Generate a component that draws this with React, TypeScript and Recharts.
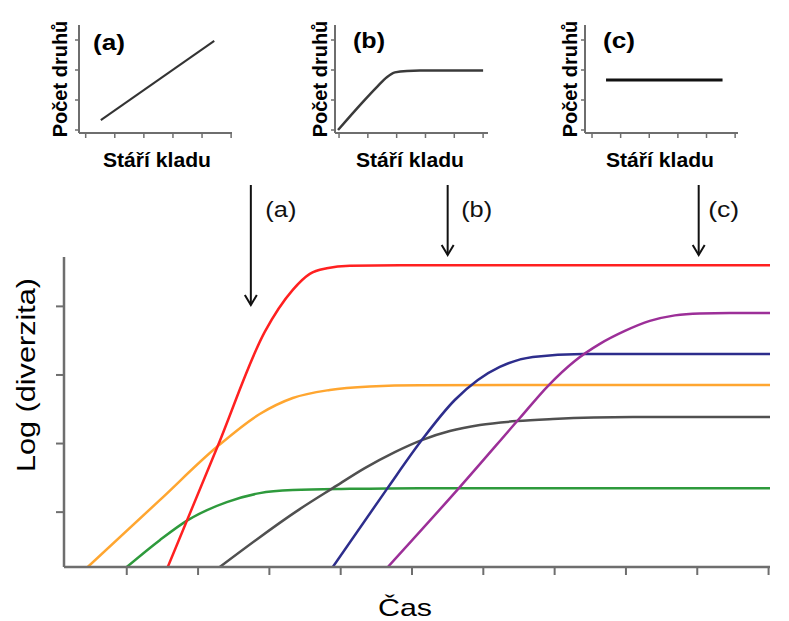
import React from "react";
import { LineChart, Line, XAxis, YAxis, ReferenceLine } from "recharts";

// main panel: time vs log(diversity), no tick labels
const timeTicks = [1, 2, 3, 4, 5, 6, 7, 8, 9, 10];
const diversityTicks = [1, 2, 3, 4];
const timeDomain: [number, number] = [0.12, 10.02];
const diversityDomain: [number, number] = [0.2, 4.72];

const redClade = [
  { t: 1.575, v: 0.2 }, { t: 2.276, v: 1.964 }, { t: 2.935, v: 3.628 }, { t: 3.328, v: 4.241 },
  { t: 3.567, v: 4.474 }, { t: 3.805, v: 4.555 }, { t: 4.128, v: 4.591 }, { t: 4.829, v: 4.599 },
  { t: 10.02, v: 4.599 },
];
const orangeClade = [
  { t: 0.453, v: 0.2 }, { t: 1.463, v: 1.175 }, { t: 2.262, v: 1.949 }, { t: 2.865, v: 2.431 },
  { t: 3.328, v: 2.664 }, { t: 3.847, v: 2.781 }, { t: 4.408, v: 2.832 }, { t: 5.109, v: 2.851 },
  { t: 10.02, v: 2.854 },
];
const greenClade = [
  { t: 1.0, v: 0.2 }, { t: 1.463, v: 0.591 }, { t: 1.856, v: 0.883 }, { t: 2.403, v: 1.146 },
  { t: 2.865, v: 1.277 }, { t: 3.328, v: 1.321 }, { t: 4.128, v: 1.34 }, { t: 5.109, v: 1.35 },
  { t: 10.02, v: 1.35 },
];
const grayClade = [
  { t: 2.304, v: 0.2 }, { t: 3.426, v: 1.044 }, { t: 3.889, v: 1.35 }, { t: 4.338, v: 1.642 },
  { t: 4.759, v: 1.876 }, { t: 5.137, v: 2.051 }, { t: 5.53, v: 2.182 }, { t: 5.951, v: 2.27 },
  { t: 6.47, v: 2.328 }, { t: 6.975, v: 2.358 }, { t: 8.097, v: 2.387 }, { t: 10.02, v: 2.387 },
];
const blueClade = [
  { t: 3.889, v: 0.2 }, { t: 4.647, v: 1.336 }, { t: 5.137, v: 2.051 }, { t: 5.6, v: 2.635 },
  { t: 5.923, v: 2.927 }, { t: 6.231, v: 3.117 }, { t: 6.694, v: 3.263 }, { t: 7.396, v: 3.307 },
  { t: 10.02, v: 3.307 },
];
const purpleClade = [
  { t: 4.661, v: 0.2 }, { t: 5.67, v: 1.365 }, { t: 6.512, v: 2.372 }, { t: 6.905, v: 2.839 },
  { t: 7.283, v: 3.204 }, { t: 7.634, v: 3.453 }, { t: 7.985, v: 3.642 }, { t: 8.335, v: 3.788 },
  { t: 8.686, v: 3.869 }, { t: 9.036, v: 3.898 }, { t: 9.457, v: 3.905 }, { t: 10.02, v: 3.905 },
];

const clades = [
  { name: "orange", color: "#ffa630", data: orangeClade },
  { name: "green", color: "#2e9a3c", data: greenClade },
  { name: "gray", color: "#505050", data: grayClade },
  { name: "blue", color: "#2d2d8c", data: blueClade },
  { name: "purple", color: "#9c2f98", data: purpleClade },
  { name: "red", color: "#ff2020", data: redClade },
];

const arrows = [
  { text: "(a)", t: 2.74, top: 5.77, tip: 4.02, dx: 30 },
  { text: "(b)", t: 5.5, top: 5.77, tip: 4.75, dx: 29 },
  { text: "(c)", t: 9.02, top: 5.77, tip: 4.75, dx: 25 },
];

// small insets: clade age vs species count
const ageTicks = [1, 2, 3, 4, 5, 6];
const countTicks = [0, 1, 2, 3];
const countDomain: [number, number] = [-0.1, 3.5];

const insetLinear = [{ a: 1.52, n: 0.33 }, { a: 5.42, n: 2.97 }];
const insetSaturating = [
  { a: 0.965, n: 0 }, { a: 1.83, n: 0.94 }, { a: 2.32, n: 1.44 }, { a: 2.67, n: 1.77 },
  { a: 2.94, n: 1.92 }, { a: 3.36, n: 1.97 }, { a: 3.81, n: 1.98 }, { a: 6.0, n: 1.98 },
];
const insetConstant = [{ a: 1.49, n: 1.67 }, { a: 5.56, n: 1.67 }];

const insets = [
  { key: "a", left: 40, ml: 38, mr: 18, domain: [0.77, 6.03], data: insetLinear, color: "#333", width: 2, type: "linear" },
  { key: "b", left: 300, ml: 34, mr: 22, domain: [0.86, 6.17], data: insetSaturating, color: "#3a3a3a", width: 2.5, type: "monotone" },
  { key: "c", left: 550, ml: 34, mr: 22, domain: [0.755, 6.1], data: insetConstant, color: "#111", width: 3, type: "linear" },
];

const AXIS = "#6e6e6e";
const FONT = "'Liberation Sans', Arial, sans-serif";
const noLabel = () => "";

function Arrow(props: any) {
  const { x1, y1, x2, y2, text, dx } = props;
  return (
    <g>
      <line x1={x1} y1={y1} x2={x2} y2={y2} stroke="#111" strokeWidth={2} />
      <polyline
        points={`${x2 - 6},${y2 - 10} ${x2},${y2} ${x2 + 6},${y2 - 10}`}
        fill="none"
        stroke="#111"
        strokeWidth={2}
      />
      <text
        x={x1 + dx}
        y={y1 + 32}
        textAnchor="middle"
        fontSize={22}
        fontFamily={FONT}
        fill="#111"
        textLength={31}
        lengthAdjust="spacingAndGlyphs"
      >
        {text}
      </text>
    </g>
  );
}

function Inset({ cfg }: { cfg: any }) {
  return (
    <div style={{ position: "absolute", left: cfg.left, top: 0 }}>
      <LineChart width={210} height={175} margin={{ top: 25, right: cfg.mr, bottom: 41, left: cfg.ml }}>
        <XAxis
          dataKey="a"
          type="number"
          domain={cfg.domain}
          ticks={ageTicks}
          allowDataOverflow
          tickFormatter={noLabel}
          tickSize={5}
          height={1}
          axisLine={{ stroke: AXIS, strokeWidth: 2 }}
          tickLine={{ stroke: AXIS, strokeWidth: 1.5 }}
        />
        <YAxis
          dataKey="n"
          type="number"
          domain={countDomain}
          ticks={countTicks}
          allowDataOverflow
          tickFormatter={noLabel}
          tickSize={4}
          width={1}
          axisLine={{ stroke: AXIS, strokeWidth: 2 }}
          tickLine={{ stroke: AXIS, strokeWidth: 1.5 }}
        />
        <Line
          data={cfg.data}
          dataKey="n"
          type={cfg.type}
          stroke={cfg.color}
          strokeWidth={cfg.width}
          dot={false}
          isAnimationActive={false}
        />
      </LineChart>
    </div>
  );
}

export default function App() {
  return (
    <div style={{ position: "absolute", left: 0, top: 0, width: 789, height: 621, background: "#fff", fontFamily: FONT }}>
      {insets.map((cfg) => (
        <Inset key={cfg.key} cfg={cfg} />
      ))}
      <div style={{ position: "absolute", left: 0, top: 0 }}>
        <LineChart width={789} height={621} margin={{ top: 257, right: 19, bottom: 53, left: 63 }}>
          <XAxis
            dataKey="t"
            type="number"
            domain={timeDomain}
            ticks={timeTicks}
            allowDataOverflow
            tickFormatter={noLabel}
            tickSize={8}
            height={1}
            axisLine={{ stroke: AXIS, strokeWidth: 2.5 }}
            tickLine={{ stroke: AXIS, strokeWidth: 2 }}
          />
          <YAxis
            dataKey="v"
            type="number"
            domain={diversityDomain}
            ticks={diversityTicks}
            allowDataOverflow
            tickFormatter={noLabel}
            tickSize={8}
            width={1}
            axisLine={{ stroke: AXIS, strokeWidth: 2.5 }}
            tickLine={{ stroke: AXIS, strokeWidth: 2 }}
          />
          {clades.map((c) => (
            <Line
              key={c.name}
              data={c.data}
              dataKey="v"
              type="monotone"
              stroke={c.color}
              strokeWidth={2.5}
              dot={false}
              isAnimationActive={false}
            />
          ))}
          {arrows.map((a) => (
            <ReferenceLine
              key={a.text}
              segment={[{ x: a.t, y: a.top }, { x: a.t, y: a.tip }]}
              ifOverflow="visible"
              shape={(p: any) => <Arrow {...p} text={a.text} dx={a.dx} />}
            />
          ))}
        </LineChart>
      </div>
      <svg width={789} height={621} style={{ position: "absolute", left: 0, top: 0, pointerEvents: "none" }}>
        <g fontFamily={FONT} fill="#000">
          {insets.map((cfg) => (
            <g key={cfg.key} fontWeight="bold" fontSize={20}>
              <text
                x={cfg.left + 69}
                y={cfg.key === "a" ? 50 : 48}
                textAnchor="middle"
                fontSize={22}
                textLength={32}
                lengthAdjust="spacingAndGlyphs"
              >
                ({cfg.key})
              </text>
              <text
                x={cfg.left + 27}
                y={79}
                textAnchor="middle"
                transform={`rotate(-90 ${cfg.left + 27} 79)`}
              >
                Počet druhů
              </text>
              <text
                x={cfg.left + (cfg.key === "a" ? 117 : 110)}
                y={167}
                textAnchor="middle"
                textLength={108}
                lengthAdjust="spacingAndGlyphs"
              >
                Stáří kladu
              </text>
            </g>
          ))}
          <text
            x={35}
            y={375}
            textAnchor="middle"
            fontSize={26}
            textLength={194}
            lengthAdjust="spacingAndGlyphs"
            transform="rotate(-90 35 375)"
          >
            Log (diverzita)
          </text>
          <text x={405} y={616} textAnchor="middle" fontSize={24} textLength={54} lengthAdjust="spacingAndGlyphs">
            Čas
          </text>
        </g>
      </svg>
    </div>
  );
}
